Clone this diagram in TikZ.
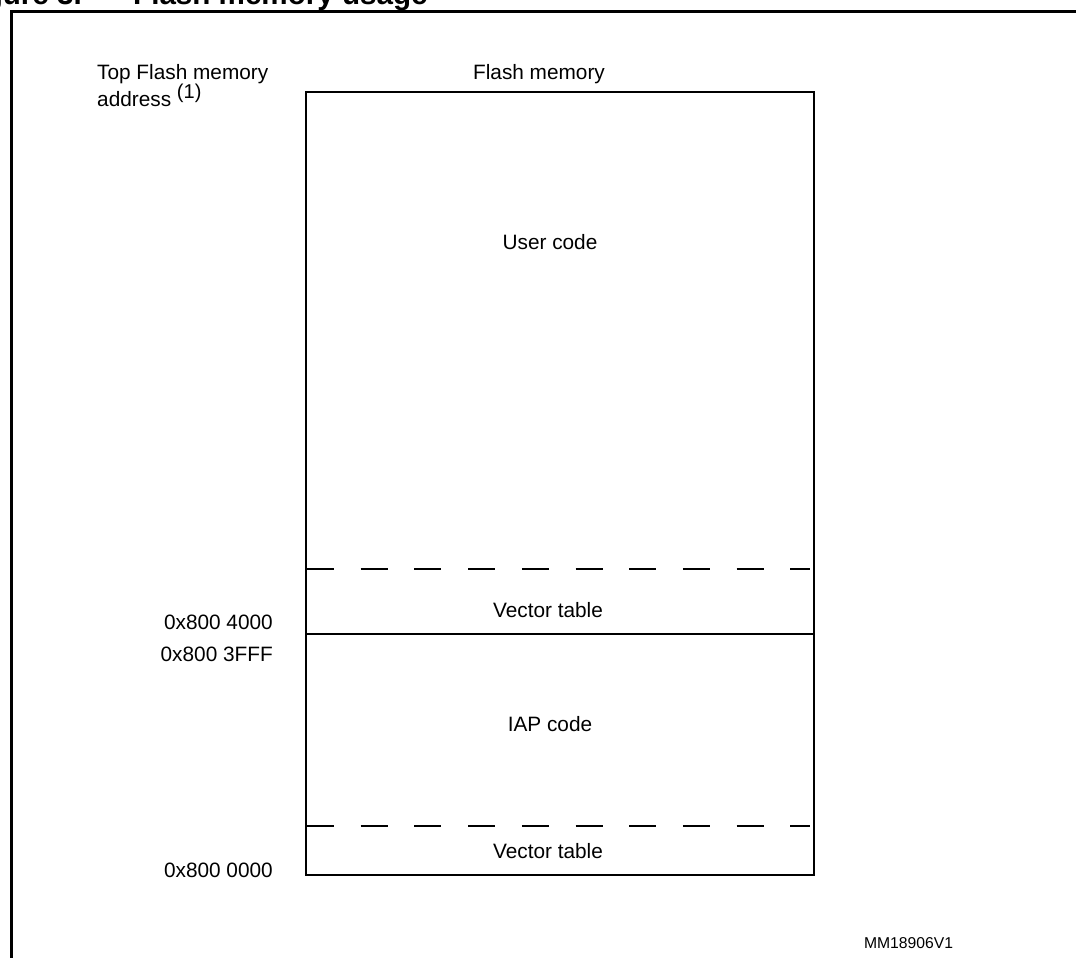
\documentclass[tikz,border=0pt]{standalone}
\usepackage{fontspec}
\setmainfont{Liberation Sans}
\usepackage{tikz}
\usetikzlibrary{positioning}

\tikzset{
  txt/.style={inner sep=0pt,font=\fontsize{20.8}{25}\selectfont},
  lbl/.style={txt,anchor=base},
  addr/.style={txt,anchor=base east},
  sepline/.style={line width=1.5pt,dash pattern=on 27pt off 26.7pt},
}

\begin{document}
\begin{tikzpicture}[x=1pt,y=-1pt]
\useasboundingbox(0,0)rectangle(1076,958);
\clip(0,0)rectangle(1076,958);
% title, cut by the top of the page
\node[anchor=base east,inner sep=0pt,font=\fontsize{29.6}{34}\selectfont\bfseries](fignum)at(82,5){Figure 3.};
\node[anchor=base west,inner sep=0pt,font=\fontsize{29.6}{34}\selectfont\bfseries](figtitle)at(133,5){Flash memory usage};
\draw[line width=3pt](11.5,980)--(11.5,11.5)--(1090,11.5);
% memory map
\coordinate(flashNW)at(306,92);
\coordinate(flashSE)at(814,875);
\draw[line width=1.8pt](flashNW)rectangle(flashSE);
\draw[sepline](307,569)--(810,569);
\draw[line width=1.5pt](306,634)--(814,634);
\draw[sepline](307,826)--(810,826);
\node[lbl](flashlbl)at(539,79){Flash memory};
\node[lbl](usercode)at(550,249){User code};
\node[lbl](vectop)at(548,617){Vector table};
\node[lbl](iapcode)at(550,731){IAP code};
\node[lbl](vecbot)at(548,858){Vector table};
% addresses
\node[txt,anchor=base west](toplbl)at(97,80){Top Flash memory};
\node[txt,anchor=base west](addrlbl)at(97,106){address \raisebox{7pt}{\fontsize{20}{24}\selectfont(1)}};
\node[addr](a4000)at(273,629){0x800 4000};
\node[addr](a3fff)at(273,661){0x800 3FFF};
\node[addr](a0000)at(273,877.5){0x800 0000};
\node[anchor=base,inner sep=0pt,font=\fontsize{15.7}{19}\selectfont](figid)at(908.5,948.5){MM18906V1};
\end{tikzpicture}
\end{document}
